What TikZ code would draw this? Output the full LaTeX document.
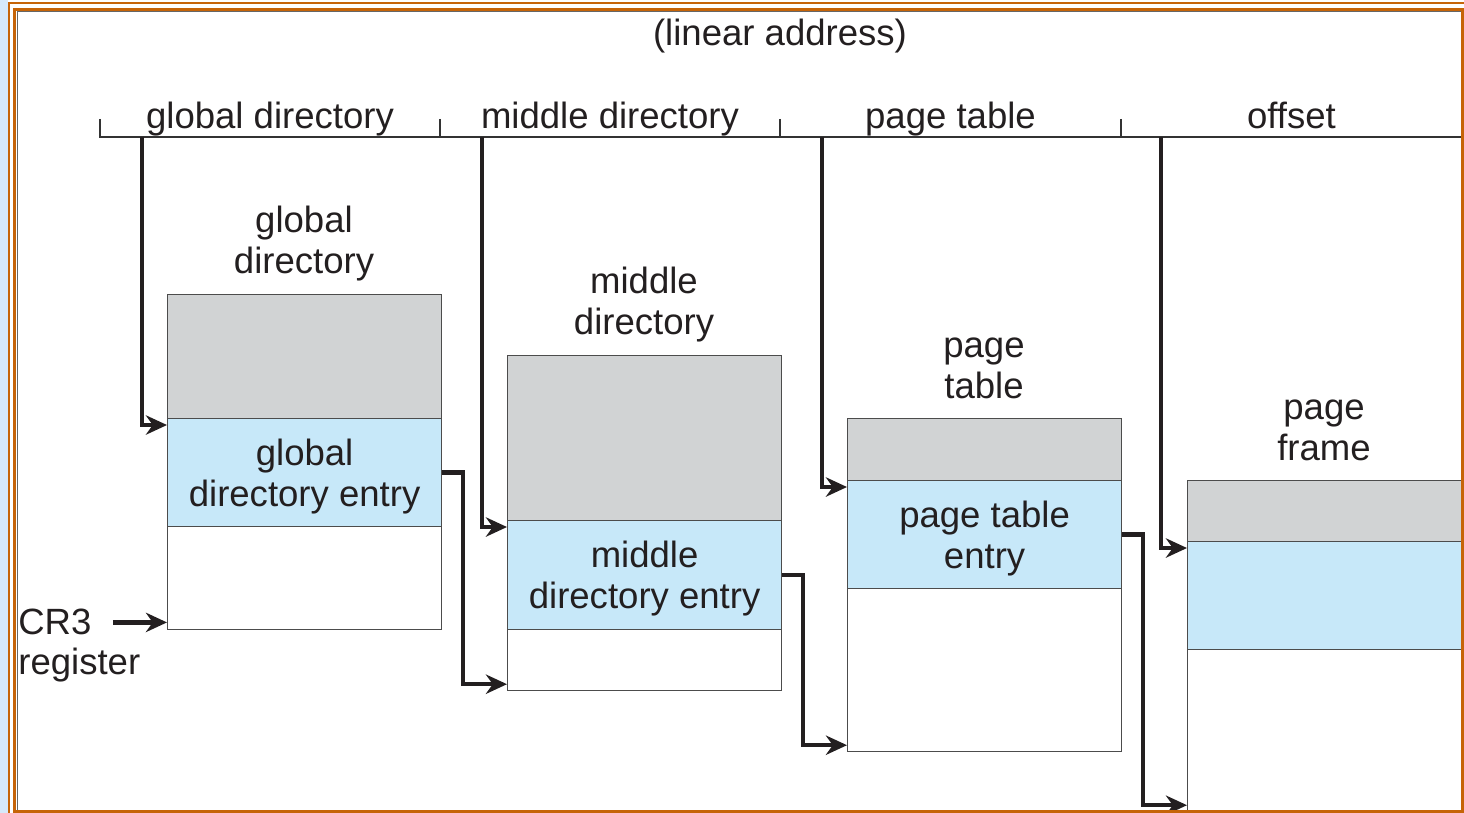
\documentclass[tikz,border=0pt]{standalone}
\usepackage{fontspec}
\setmainfont{Liberation Sans}
\usetikzlibrary{arrows.meta, positioning}
\usepackage{xcolor}
\definecolor{framebrown}{RGB}{198,100,8}
\definecolor{stripblue}{RGB}{214,233,250}
\definecolor{boxgray}{RGB}{209,211,212}
\definecolor{entryblue}{RGB}{199,232,249}
\definecolor{inkgray}{RGB}{35,31,32}

\begin{document}
\begin{tikzpicture}[x=0.02cm, y=-0.02cm, font=\fontsize{20.8}{23.4}\selectfont, text=inkgray]
    \tikzstyle{band}=[draw=black!70, line width=0.7pt, rectangle, minimum width=5.48cm, inner sep=0pt, anchor=north west]
    \tikzstyle{conn}=[draw=inkgray, line width=2.6pt, -{Stealth[length=12pt,width=11pt]}]
    \tikzstyle{title}=[align=center, inner sep=0pt]
    \tikzstyle{field}=[inner sep=0pt, anchor=base]

    \useasboundingbox (0,0) rectangle (1464,813);
    \fill[stripblue] (0,0) rectangle (8,813);

    % address bar
    \node[field] (LA) at (780,46) {(linear address)};
    \draw[draw=black!80, line width=0.8pt] (100,119) -- (100,137) -- (1462,137) -- (1462,119);
    \foreach \x in {440,780,1121}
        \draw[draw=black!80, line width=0.8pt] (\x,119) -- (\x,137);
    \foreach \n/\x/\t in {1/270/global directory, 2/610/middle directory, 3/950.5/page table, 4/1291.5/offset}
        \node[field] (L-\n) at (\x,129) {\t};
    \foreach \n/\x in {1/142, 2/482, 3/822, 4/1161}
        \coordinate (A-\n) at (\x,137);

    % tables
    \foreach \n/\x/\ya/\yb/\yc/\yd/\ti/\te in {
        G/167/294/418/526/629/{global\\directory}/{global\\directory entry},
        M/507/355/520/629/690/{middle\\directory}/{middle\\directory entry},
        P/847/418/480/588/751/{page\\table}/{page table\\entry},
        F/1187/480/541/649/811/{page\\frame}/{}}{
        \pgfmathsetmacro\ha{(\yb-\ya)*0.02}
        \pgfmathsetmacro\hb{(\yc-\yb)*0.02}
        \pgfmathsetmacro\hc{(\yd-\yc)*0.02}
        \node[band, fill=boxgray, minimum height=\ha cm] (\n-top) at (\x,\ya) {};
        \node[band, fill=entryblue, minimum height=\hb cm, align=center, text depth=0pt] (\n-ent) at (\x,\yb) {\te};
        \node[title] (\n-title) at (\x+137,\ya-50) {\ti};
        \node[band, fill=white, minimum height=\hc cm] (\n-bot) at (\x,\yc) {};
    }

    \draw[conn] (A-1) |- ([yshift=-4pt]G-ent.north west);
    \draw[conn] (A-2) |- ([yshift=-4pt]M-ent.north west);
    \draw[conn] (A-3) |- ([yshift=-4pt]P-ent.north west);
    \draw[conn] (A-4) |- ([yshift=-4pt]F-ent.north west);

    \draw[conn] (G-ent.east) -- ++(21,0) |- ([yshift=4pt]M-bot.south west);
    \draw[conn] (M-ent.east) -- ++(21,0) |- ([yshift=4pt]P-bot.south west);
    \draw[conn] (P-ent.east) -- ++(21,0) |- ([yshift=4pt]F-bot.south west);

    \node[inner sep=0pt, anchor=base west] (cr3) at (18,635) {CR3};
    \node[inner sep=0pt, anchor=base west] (reg) at (18,675) {register};
    \draw[conn, shorten <=12pt] (cr3.east) -- (cr3.east -| G-bot.west);

    % frame
    \draw[framebrown, line width=1.1pt] (9,3) rectangle (1480,830);
    \draw[framebrown, line width=1.9pt] (14.5,9.5) rectangle (1463,811.5);
    \draw[black!60, line width=0.5pt] (17,810) -- (17,11.5) -- (1461,11.5);
\end{tikzpicture}
\end{document}
